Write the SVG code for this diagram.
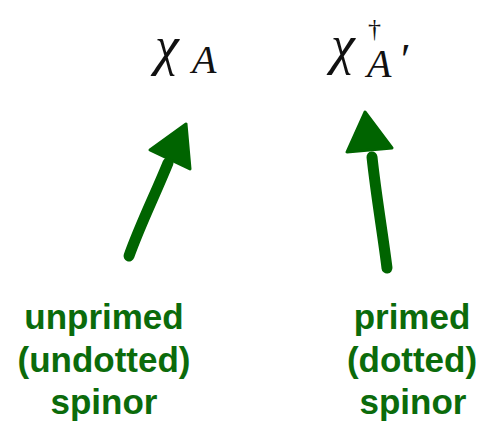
<svg xmlns="http://www.w3.org/2000/svg" width="483" height="423" viewBox="0 0 483 423">
<style>
.lbl{font-family:"Liberation Sans",Arial,sans-serif;font-weight:bold;font-size:35px;fill:#0b6b0b;text-anchor:middle}
.m{font-family:"Liberation Serif","Times New Roman",serif;font-style:italic;fill:#111}
.up{font-family:"Liberation Serif","Times New Roman",serif;font-style:normal;fill:#111}
.shaft{stroke:#006400;stroke-width:11;stroke-linecap:round;fill:none}
.head{fill:#006400;stroke:#006400;stroke-width:3;stroke-linejoin:round}
</style>
<rect width="483" height="423" fill="#fff"/>
<g id="math-left">
<text class="m" x="155" y="64" font-size="54">χ</text>
<text class="m" x="192" y="73" font-size="40">A</text>
</g>
<g id="math-right">
<text class="m" x="331" y="63" font-size="54">χ</text>
<text class="up" x="368" y="37" font-size="26">†</text>
<text class="m" x="367" y="77" font-size="40">A</text>
<text class="up" x="401" y="74" font-size="44">′</text>
</g>
<g id="connectors">
<path class="shaft" d="M129 256 C140 225 155 195 168 163"/>
<polygon class="head" points="150,150 186,124 190,169"/>
<path class="shaft" d="M372 157 C376 195 383 235 387 268"/>
<polygon class="head" points="365,112 347,152 392,148"/>
</g>
<g id="label-left">
<text class="lbl" x="104" y="329">unprimed</text>
<text class="lbl" x="104" y="372">(undotted)</text>
<text class="lbl" x="104" y="414">spinor</text>
</g>
<g id="label-right">
<text class="lbl" x="412" y="329">primed</text>
<text class="lbl" x="412" y="372">(dotted)</text>
<text class="lbl" x="413" y="414">spinor</text>
</g>
</svg>
